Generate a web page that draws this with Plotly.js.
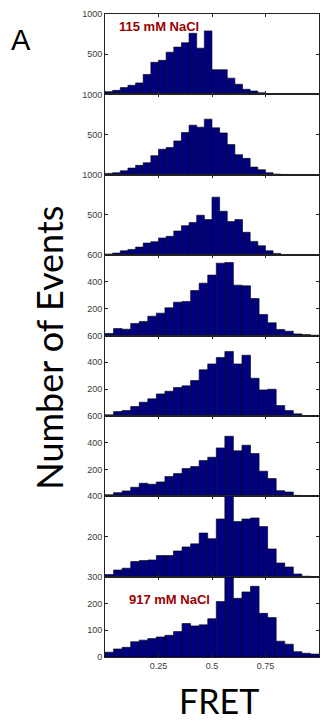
<!DOCTYPE html>
<html>
<head>
<meta charset="utf-8">
<script src="https://cdn.plot.ly/plotly-3.0.1.min.js"></script>
<style>
  html, body { margin: 0; padding: 0; background: #fff; }
  #chart { width: 320px; height: 721px; }
</style>
</head>
<body>
<div id="chart"></div>
<script>
// ---- Data: FRET histograms, top (115 mM NaCl) to bottom (917 mM NaCl) ----
const panelLabels = ["115 mM NaCl", "", "", "", "", "", "", "917 mM NaCl"];

// first bin centre and bin width (FRET units) for each panel
const binStart = [0.0179, 0.0179, 0.0179, 0.02, 0.02, 0.02, 0.02, 0.02];
const binWidth = [0.0357, 0.0357, 0.0357, 0.04, 0.04, 0.04, 0.04, 0.04];

const counts1 = [34, 50, 84, 113, 143, 248, 399, 424, 525, 588, 643, 760, 575, 790, 307, 307, 202, 126, 63, 42, 21, 8, 4, 3, 2, 0, 0, 0];
const counts2 = [17, 25, 50, 83, 117, 150, 238, 317, 338, 421, 525, 617, 592, 692, 584, 521, 375, 250, 204, 96, 63, 25, 8, 4, 2, 1, 0, 0];
const counts3 = [13, 25, 54, 71, 100, 150, 167, 213, 234, 300, 367, 405, 496, 442, 721, 546, 417, 442, 284, 171, 117, 54, 21, 8, 4, 0, 0, 0];
const counts4 = [15, 52, 47, 90, 105, 144, 167, 207, 249, 254, 336, 391, 451, 540, 545, 376, 371, 276, 157, 95, 45, 32, 12, 7, 2];
const counts5 = [8, 32, 40, 70, 102, 127, 164, 184, 212, 224, 264, 344, 388, 436, 481, 388, 453, 281, 194, 199, 77, 40, 15, 2, 0];
const counts6 = [12, 27, 40, 67, 97, 90, 107, 147, 169, 207, 222, 266, 291, 361, 448, 339, 381, 319, 187, 132, 42, 32, 7, 2, 0];
const counts7 = [10, 33, 42, 75, 80, 83, 105, 105, 128, 148, 163, 217, 189, 287, 430, 274, 287, 292, 249, 138, 68, 48, 13, 2, 0];
const counts8 = [18, 30, 36, 57, 63, 69, 75, 81, 95, 125, 116, 120, 143, 207, 320, 219, 243, 264, 163, 147, 59, 48, 20, 14, 11];

const allCounts = [counts1, counts2, counts3, counts4, counts5, counts6, counts7, counts8];

// axis limits and tick labels
const yMax = [1000, 1000, 1000, 600, 600, 600, 400, 300];
const yTicks = [[500, 1000], [500, 1000], [500, 1000], [200, 400, 600], [200, 400, 600], [200, 400, 600], [200, 400], [0, 100, 200, 300]];
const xTicks = [0.25, 0.5, 0.75];
const xTickText = ["0.25", "0.5", "0.75"];

// ---- Build figure ----
const n = allCounts.length;
const traces = [];
const layout = {
  width: 320, height: 721,
  margin: { l: 105, r: 1, t: 14, b: 64 },
  paper_bgcolor: "#ffffff",
  plot_bgcolor: "#ffffff",
  showlegend: false,
  bargap: 0,
  font: { family: "Liberation Sans, Arial, sans-serif", size: 9, color: "#333" },
  annotations: []
};

for (let i = 0; i < n; i++) {
  const s = i === 0 ? "" : String(i + 1);
  traces.push({
    type: "bar",
    x0: binStart[i], dx: binWidth[i],
    y: allCounts[i],
    xaxis: "x" + s, yaxis: "y" + s,
    marker: { color: "#000080", line: { color: "#000000", width: 0.6 } },
    hoverinfo: "skip"
  });
  const axStyle = {
    showline: true, linecolor: "#222", linewidth: 1, mirror: "ticks",
    ticks: "inside", ticklen: 3, tickcolor: "#222", tickwidth: 1,
    showgrid: false, zeroline: false, fixedrange: true,
    tickfont: { family: "Liberation Sans, Arial, sans-serif", size: 9, color: "#3a3a3a" }
  };
  layout["xaxis" + s] = Object.assign({}, axStyle, {
    domain: [0, 1], range: [0, 1], anchor: "y" + s,
    tickmode: "array", tickvals: xTicks, ticktext: xTickText,
    showticklabels: i === n - 1
  });
  if (i > 0) layout["xaxis" + s].matches = "x";
  layout["yaxis" + s] = Object.assign({}, axStyle, {
    domain: [1 - (i + 1) / n, 1 - i / n], range: [0, yMax[i]], anchor: "x" + s,
    tickmode: "array", tickvals: yTicks[i], ticktext: yTicks[i].map(String)
  });
  if (panelLabels[i]) {
    layout.annotations.push({
      text: panelLabels[i], xref: "x" + s, yref: "y" + s,
      x: i === 0 ? 0.253 : 0.30, y: yMax[i] * (i === 0 ? 0.845 : 0.72),
      showarrow: false, xanchor: "center", yanchor: "middle",
      font: { family: "Liberation Sans, Arial, sans-serif", size: 13, color: "#990000", weight: "bold" }
    });
  }
}

layout.annotations.push(
  { text: "A", xref: "paper", yref: "paper", x: 0, y: 1, xshift: -84, yshift: -26,
    showarrow: false, xanchor: "center", yanchor: "middle",
    font: { family: "Liberation Sans, Arial, sans-serif", size: 29, color: "#000" } },
  { text: "Number of Events", xref: "paper", yref: "paper", x: 0, y: 0.481, xshift: -56,
    textangle: -90, showarrow: false, xanchor: "center", yanchor: "middle",
    font: { family: "Lato, Carlito, sans-serif", size: 36, color: "#000" } },
  { text: "FRET", xref: "paper", yref: "paper", x: 0.5, y: 0, xshift: 7, yshift: -43,
    showarrow: false, xanchor: "center", yanchor: "middle",
    font: { family: "Lato, Carlito, sans-serif", size: 34, color: "#000" } }
);

Plotly.newPlot("chart", traces, layout, { displayModeBar: false, staticPlot: true });
</script>
</body>
</html>
